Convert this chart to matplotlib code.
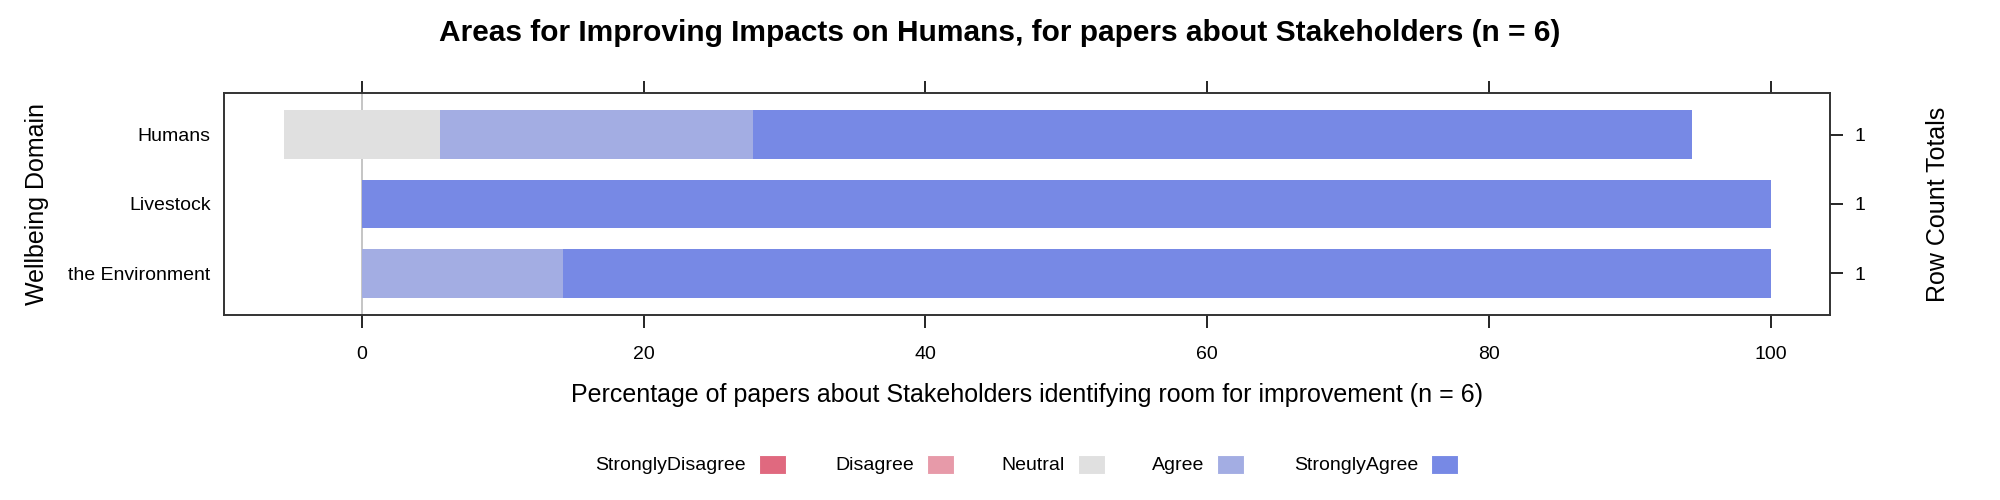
import matplotlib
matplotlib.use("Agg")
import matplotlib.pyplot as plt
from matplotlib.patches import Rectangle
import numpy as np

plt.rcParams['font.family'] = ['Liberation Sans', 'DejaVu Sans']

categories = ["Humans", "Livestock", "the Environment"]
levels = ["StronglyDisagree", "Disagree", "Neutral", "Agree", "StronglyAgree"]
colors = ["#E0697F", "#E79AA9", "#E0E0E0", "#A3ADE3", "#7789E5"]
# percentages per row
strongly_disagree = [0.0, 0.0, 0.0]
disagree = [0.0, 0.0, 0.0]
neutral = [11.11, 0.0, 0.0]
agree = [22.22, 0.0, 14.29]
strongly_agree = [66.67, 100.0, 85.71]
row_totals = ["1", "1", "1"]
xticks = [0, 20, 40, 60, 80, 100]

W, H = 2000, 500
fig = plt.figure(figsize=(20, 5), dpi=100)
ax = fig.add_axes([0.1122, 0.37, 0.915 - 0.1122, 0.814 - 0.37])

ypos = np.arange(len(categories))[::-1] + 1  # Humans on top
h = 0.7
sd = np.array(strongly_disagree); d = np.array(disagree); n = np.array(neutral)
a = np.array(agree); sa = np.array(strongly_agree)

ax.axvline(0, color="#BBBBBB", lw=1.2, zorder=0)
# negative side
ax.barh(ypos, -n / 2, left=0, height=h, color=colors[2], zorder=2)
ax.barh(ypos, -d, left=-n / 2, height=h, color=colors[1], zorder=2)
ax.barh(ypos, -sd, left=-n / 2 - d, height=h, color=colors[0], zorder=2)
# positive side
ax.barh(ypos, n / 2, left=0, height=h, color=colors[2], zorder=2)
ax.barh(ypos, a, left=n / 2, height=h, color=colors[3], zorder=2)
ax.barh(ypos, sa, left=n / 2 + a, height=h, color=colors[4], zorder=2)

lo = -(n / 2 + d + sd).max()
hi = (n / 2 + a + sa).max()
pad = (hi - lo) * 0.04
ax.set_xlim(lo - pad, hi + pad)
ax.set_ylim(0.4, 3.6)

ax.set_xticks(xticks)
ax.set_xticklabels([str(t) for t in xticks])
ax.tick_params(axis='x', which='both', top=True, bottom=True, labeltop=False,
               direction='out', length=9, width=1.2, labelsize=14, pad=13)
ax.set_yticks(ypos)
ax.set_yticklabels(categories)
for sp in ax.spines.values():
    sp.set_linewidth(1.2)
    sp.set_color("#333333")

ax2 = ax.twinx()
ax2.set_ylim(ax.get_ylim())
ax2.set_yticks(ypos)
ax2.set_yticklabels(row_totals)
ax2.tick_params(axis='y', direction='out', length=9, width=1.2, labelsize=14, pad=9)
ax2.set_ylabel("Row Count Totals", fontsize=18, labelpad=0)
ax2.yaxis.set_label_coords(1.06, 0.5)
for sp in ax2.spines.values():
    sp.set_linewidth(1.2)
    sp.set_color("#333333")

ax.tick_params(axis='y', left=False, right=False, labelleft=True, labelright=False,
               length=0, labelsize=14, pad=10)

ax.set_xlabel("Percentage of papers about Stakeholders identifying room for improvement (n = 6)",
              fontsize=18)
ax.xaxis.set_label_coords(0.5, -0.305)
ax.set_ylabel("Wellbeing Domain", fontsize=18)
ax.yaxis.set_label_coords(-0.109, 0.5)

fig.suptitle("Areas for Improving Impacts on Humans, for papers about Stakeholders (n = 6)",
             fontsize=21.5, fontweight='bold', y=0.962)

# legend (text to the left of each key)
key_left = [759, 927, 1078, 1217, 1431]
key_w, key_h = 27, 19
key_y = 455
for lab, col, xl in zip(levels, colors, key_left):
    fig.add_artist(Rectangle((xl / W, 1 - (key_y + key_h) / H), key_w / W, key_h / H,
                             transform=fig.transFigure, facecolor=col,
                             edgecolor='white', lw=0.8))
    fig.text((xl - 13) / W, 1 - 465 / H, lab, ha='right', va='center', fontsize=14)

fig.savefig("out.png", dpi=100)
